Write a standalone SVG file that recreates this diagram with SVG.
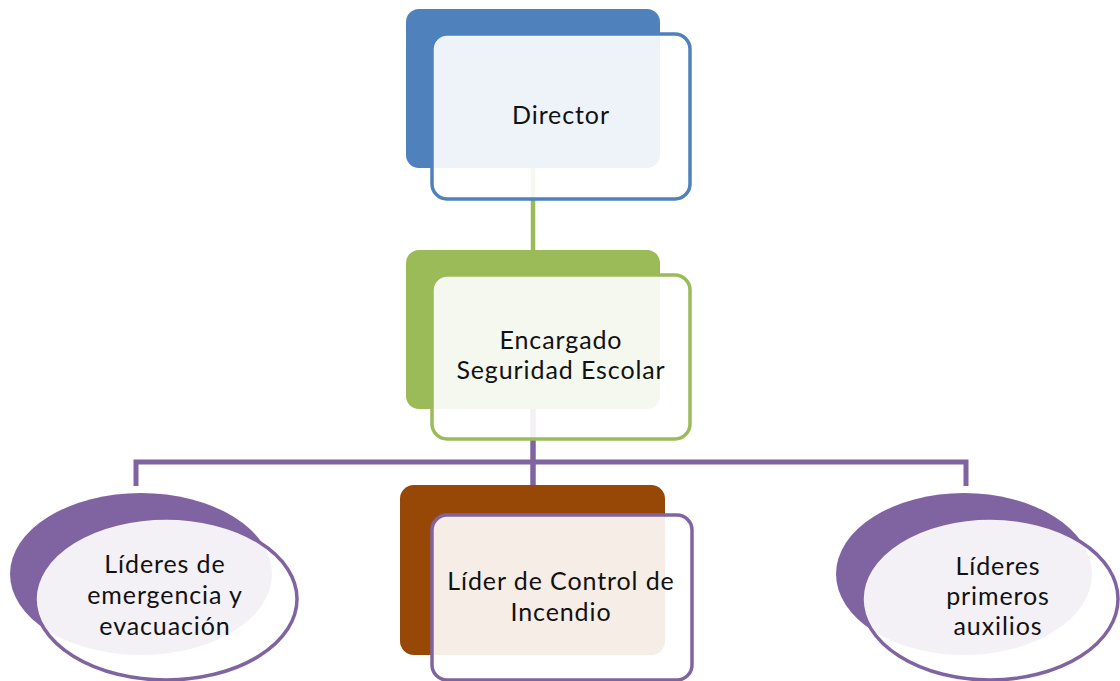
<svg xmlns="http://www.w3.org/2000/svg" width="1120" height="681" viewBox="0 0 1120 681">
  <style>
    .lbl { font-family: Lato, "Open Sans", "Liberation Sans", sans-serif; font-size: 25px; letter-spacing: 0.9px; fill: #111111; text-anchor: middle; }
    .front { fill: #ffffff; fill-opacity: 0.9; stroke-width: 3.5; }
    .conn { fill: none; stroke-linejoin: miter; }
  </style>
  <rect width="1120" height="681" fill="#ffffff"/>

  <!-- connectors -->
  <g id="connectors">
    <line class="conn" x1="533" y1="166" x2="533" y2="252" stroke="#9BBB59" stroke-width="4.5"/>
    <line class="conn" x1="533" y1="408" x2="533" y2="487" stroke="#8064A2" stroke-width="5.5"/>
    <polyline class="conn" points="136,486 136,462 966,462 966,486" stroke="#8064A2" stroke-width="5"/>
  </g>

  <g id="director">
    <rect x="406" y="9" width="254" height="159" rx="13" fill="#4F81BD"/>
    <rect class="front" x="432" y="34" width="258" height="165" rx="15" stroke="#4F81BD"/>
    <text class="lbl" x="561" y="124">Director</text>
  </g>

  <g id="encargado">
    <rect x="406" y="250" width="254" height="159" rx="13" fill="#9BBB59"/>
    <rect class="front" x="432" y="275" width="258" height="164" rx="15" stroke="#9BBB59"/>
    <text class="lbl" x="561" y="349">Encargado</text>
    <text class="lbl" x="561" y="379">Seguridad Escolar</text>
  </g>

  <g id="lider-emergencia">
    <ellipse cx="141" cy="574" rx="131" ry="81" fill="#8064A2"/>
    <ellipse class="front" cx="166" cy="599" rx="131" ry="81" stroke="#8064A2"/>
    <text class="lbl" x="165" y="573">Líderes de</text>
    <text class="lbl" x="165" y="604">emergencia y</text>
    <text class="lbl" x="165" y="635">evacuación</text>
  </g>

  <g id="lider-incendio">
    <rect x="400" y="485" width="265" height="170" rx="14" fill="#974706"/>
    <rect class="front" x="432" y="515" width="260" height="165" rx="15" stroke="#8064A2"/>
    <text class="lbl" x="561" y="590">Líder de Control de</text>
    <text class="lbl" x="561" y="621">Incendio</text>
  </g>

  <g id="lider-auxilios">
    <ellipse cx="964" cy="574" rx="128" ry="81" fill="#8064A2"/>
    <ellipse class="front" cx="990" cy="599" rx="128" ry="81" stroke="#8064A2"/>
    <text class="lbl" x="998" y="575">Líderes</text>
    <text class="lbl" x="998" y="605">primeros</text>
    <text class="lbl" x="998" y="635">auxilios</text>
  </g>
</svg>
